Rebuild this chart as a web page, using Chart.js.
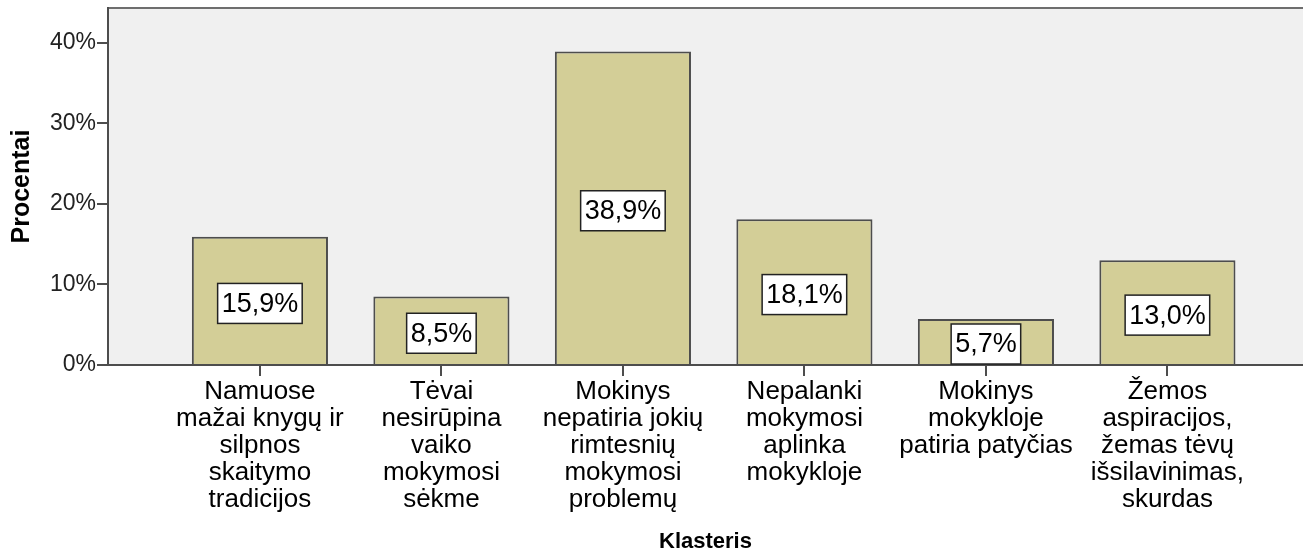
<!DOCTYPE html>
<html>
<head>
<meta charset="utf-8">
<script src="https://cdn.jsdelivr.net/npm/chart.js@4"></script>
<style>
  html, body { margin: 0; padding: 0; background: #fff; }
  #wrap { width: 1303px; height: 555px; }
</style>
</head>
<body>
<div id="wrap"><canvas id="myCanvas"></canvas></div>
<script>
// chart data
const categories = [
  ["Namuose", "mažai knygų ir", "silpnos", "skaitymo", "tradicijos"],
  ["Tėvai", "nesirūpina", "vaiko", "mokymosi", "sėkme"],
  ["Mokinys", "nepatiria jokių", "rimtesnių", "mokymosi", "problemų"],
  ["Nepalanki", "mokymosi", "aplinka", "mokykloje"],
  ["Mokinys", "mokykloje", "patiria patyčias"],
  ["Žemos", "aspiracijos,", "žemas tėvų", "išsilavinimas,", "skurdas"]
];
const percents = [15.9, 8.5, 38.9, 18.1, 5.7, 13.0];
const yTicks = [0, 10, 20, 30, 40];

const FONT = "'Liberation Sans', Arial, sans-serif";

// gray plot background + top frame line
const plotBg = {
  id: "plotBg",
  beforeDraw(chart) {
    const { ctx, chartArea: a } = chart;
    ctx.save();
    ctx.fillStyle = "#f0f0f0";
    ctx.fillRect(a.left, a.top, a.right - a.left, a.bottom - a.top);
    ctx.strokeStyle = "#6e6e6e";
    ctx.lineWidth = 2;
    ctx.beginPath();
    ctx.moveTo(a.left, a.top);
    ctx.lineTo(a.right, a.top);
    ctx.stroke();
    ctx.restore();
  }
};

// value boxes in the middle of the bars
const valueBoxes = {
  id: "valueBoxes",
  afterDatasetsDraw(chart) {
    const { ctx } = chart;
    const meta = chart.getDatasetMeta(0);
    ctx.save();
    ctx.font = "27px " + FONT;
    ctx.textAlign = "center";
    ctx.textBaseline = "middle";
    meta.data.forEach((bar, i) => {
      const txt = percents[i].toFixed(1).replace(".", ",") + "%";
      const w = ctx.measureText(txt).width + 8;
      const h = 40;
      const cy = Math.min((bar.y + bar.base) / 2 + 3, bar.base - h / 2);
      ctx.fillStyle = "#fff";
      ctx.fillRect(bar.x - w / 2, cy - h / 2, w, h);
      ctx.strokeStyle = "#222";
      ctx.lineWidth = 1.5;
      ctx.strokeRect(bar.x - w / 2, cy - h / 2, w, h);
      ctx.fillStyle = "#000";
      ctx.fillText(txt, bar.x, cy + 1);
    });
    ctx.restore();
  }
};

function createBarChart() {
  const ctx = document.getElementById("myCanvas").getContext("2d");

  new Chart(ctx, {
    type: "bar",
    data: {
      datasets: [{
        data: percents.map((v, i) => ({ x: i, y: v })),
        backgroundColor: "#d3ce97",
        borderColor: "#4d4d4d",
        borderWidth: 2,
        borderSkipped: "bottom",
        barPercentage: 0.75,
        categoryPercentage: 1
      }]
    },
    options: {
      responsive: true,
      maintainAspectRatio: false,
      animation: false,
      layout: { padding: { top: 8, right: 0, left: 0, bottom: 0 } },
      plugins: { legend: { display: false }, tooltip: { enabled: false } },
      scales: {
        x: {
          type: "linear",
          offset: false,
          min: -0.837,
          max: 5.747,
          grid: { offset: false, drawOnChartArea: false, drawTicks: true, tickLength: 11, color: "#4d4d4d", lineWidth: 2 },
          border: { display: true, color: "#4d4d4d", width: 2 },
          ticks: {
            stepSize: 1,
            includeBounds: false,
            autoSkip: false,
            maxRotation: 0,
            padding: 2,
            color: "#000",
            font: { family: FONT, size: 26, lineHeight: 1.04 },
            callback: (v) => categories[v] || ""
          },
          title: {
            display: true,
            text: "Klasteris",
            color: "#000",
            font: { family: FONT, size: 22, weight: "bold" },
            padding: { top: 0, bottom: 0 }
          },
          afterFit: (s) => { s.height = 190; s.paddingLeft = 0; s.paddingRight = 0; }
        },
        y: {
          min: 0,
          max: 44.3,
          grid: { drawOnChartArea: false, drawTicks: true, tickLength: 11, color: "#4d4d4d", lineWidth: 2 },
          border: { display: true, color: "#4d4d4d", width: 2 },
          afterBuildTicks: (s) => { s.ticks = yTicks.map((v) => ({ value: v })); },
          ticks: {
            padding: 1,
            color: "#222",
            font: { family: FONT, size: 23 },
            callback: (v) => v + "%"
          },
          title: {
            display: true,
            text: "Procentai",
            color: "#000",
            font: { family: FONT, size: 25, weight: "bold" },
            padding: { top: 7, bottom: 0 }
          },
          afterFit: (s) => { s.width = 108; s.paddingTop = 0; s.paddingBottom = 0; }
        }
      }
    },
    plugins: [plotBg, valueBoxes]
  });
}

createBarChart();
</script>
</body>
</html>
